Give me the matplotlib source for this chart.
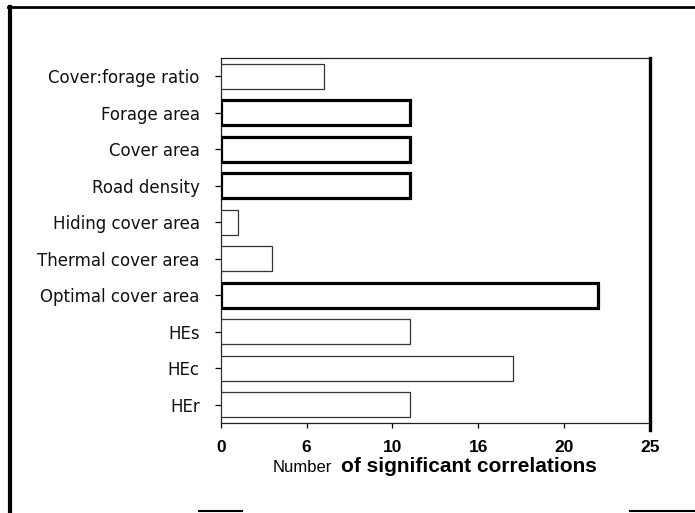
import matplotlib
matplotlib.use("Agg")
import matplotlib.pyplot as plt
from matplotlib.lines import Line2D

categories = ["Cover:forage ratio", "Forage area", "Cover area", "Road density",
              "Hiding cover area", "Thermal cover area", "Optimal cover area",
              "HEs", "HEc", "HEr"]
values = [6, 11, 11, 11, 1, 3, 22, 11, 17, 11]
highlighted = [False, True, True, True, False, False, True, False, False, False]
xtick_pos = [0, 5, 10, 15, 20, 25]
xtick_labels = ["0", "6", "10", "16", "20", "25"]

W, H = 695, 513
fig = plt.figure(figsize=(W / 100, H / 100), dpi=100)
fig.patch.set_facecolor("white")

ax = fig.add_axes([220.7 / W, 1 - 423 / H, (650 - 220.7) / W, (423 - 58) / H])

ypos = list(range(len(categories)))
for y, v, hl in zip(ypos, values, highlighted):
    ax.barh(y, v, height=0.69, left=0, color="white",
            edgecolor="black" if hl else "#333333",
            linewidth=2.3 if hl else 0.9, zorder=3)

ax.set_xlim(0, 25)
ax.set_ylim(9.5, -0.5)
ax.set_yticks(ypos)
ax.set_yticklabels(categories, fontsize=12, family="DejaVu Sans", color="#111111")
ax.set_xticks(xtick_pos)
ax.set_xticklabels(xtick_labels, fontsize=12.5, fontweight="bold", family="Liberation Sans")
ax.tick_params(axis="y", length=4, width=0.9, pad=11, direction="out")
ax.tick_params(axis="x", length=3.6, width=0.9, pad=9, direction="out")

for s in ["top", "bottom", "left"]:
    ax.spines[s].set_linewidth(0.9)
    ax.spines[s].set_color("#222222")
ax.spines["right"].set_visible(False)
ax.add_line(Line2D([1, 1], [1.0, -0.02], transform=ax.transAxes, color="black",
                   linewidth=2.4, clip_on=False, zorder=5))

# x-axis label: regular "Number" followed by bold remainder
t1 = fig.text(273 / W, 1 - 472 / H, "Number", fontsize=12, family="Liberation Sans",
              ha="left", va="baseline")
fig.canvas.draw()
bb = t1.get_window_extent()
fig.text((bb.x1 + 9) / W, 1 - 472 / H, "of significant correlations", fontsize=15,
         fontweight="bold", family="Liberation Sans", ha="left", va="baseline")

# page frame lines from the scan
fig.add_artist(Line2D([8 / W, 1], [1 - 7 / H, 1 - 7 / H], transform=fig.transFigure,
                      color="black", linewidth=2.0))
fig.add_artist(Line2D([10 / W, 10 / W], [1 - 7 / H, 0], transform=fig.transFigure,
                      color="black", linewidth=3.0))
fig.add_artist(Line2D([199 / W, 242 / W], [1 - 511 / H, 1 - 511 / H],
                      transform=fig.transFigure, color="black", linewidth=1.5))
fig.add_artist(Line2D([630 / W, 1], [1 - 511 / H, 1 - 511 / H],
                      transform=fig.transFigure, color="black", linewidth=1.5))

fig.savefig("out.png", dpi=100, facecolor="white")
